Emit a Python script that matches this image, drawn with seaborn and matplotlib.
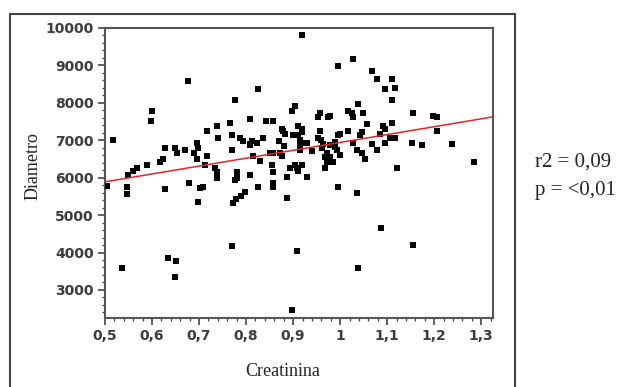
import numpy as np
import pandas as pd
import matplotlib
matplotlib.use("Agg")
import matplotlib.pyplot as plt
import seaborn as sns
from matplotlib.ticker import MultipleLocator
from matplotlib.patches import Rectangle

# ---- data ----
creatinina = [
    0.505, 0.517, 0.536, 0.549, 0.547, 0.547, 0.560, 0.567, 0.589, 0.600,
    0.598, 0.617, 0.624, 0.628, 0.628, 0.634, 0.651, 0.649, 0.649, 0.653,
    0.670, 0.677, 0.679, 0.695, 0.698, 0.690, 0.695, 0.717, 0.713, 0.702,
    0.709, 0.698, 0.717, 0.738, 0.740, 0.738, 0.738, 0.734, 0.766, 0.770,
    0.770, 0.781, 0.781, 0.777, 0.772, 0.779, 0.790, 0.798, 0.770, 0.777,
    0.809, 0.794, 0.809, 0.813, 0.823, 0.836, 0.815, 0.809, 0.826, 0.826,
    0.843, 0.857, 0.857, 0.855, 0.857, 0.857, 0.857, 0.877, 0.883, 0.877,
    0.887, 0.887, 0.898, 0.904, 0.900, 0.904, 0.898, 0.909, 0.919, 0.919,
    0.911, 0.915, 0.926, 0.911, 0.919, 0.930, 0.953, 0.957, 0.974, 0.979,
    0.957, 0.953, 0.964, 0.962, 0.972, 0.968, 0.979, 0.972, 0.989, 0.994,
    0.985, 0.968, 0.996, 0.996, 0.996, 1.017, 1.017, 1.026, 1.028, 1.028,
    1.028, 1.036, 1.038, 1.036, 1.038, 1.047, 1.049, 1.053, 1.047, 1.057,
    1.068, 1.068, 1.079, 1.079, 1.085, 1.087, 1.092, 1.096, 1.096, 1.096,
    1.106, 1.111, 1.111, 1.117, 1.111, 1.117, 1.121, 1.153, 1.155, 1.155,
    1.174, 1.198, 1.206, 1.206, 1.238, 1.285,
    0.787, 0.809, 0.879, 0.911, 0.919, 0.915, 1.000, 1.043, 0.851, 0.872,
    0.915, 0.930, 0.894, 0.909, 0.972, 0.979,
    0.870, 0.940, 0.960, 0.990, 1.000, 0.830, 0.880,
]
diametro = [
    5790, 7020, 3590, 6060, 5740, 5560, 6190, 6250, 6330, 7790,
    7520, 6410, 6510, 6780, 5690, 3850, 3770, 3350, 6780, 6650,
    6730, 8590, 5850, 6940, 6780, 6670, 6510, 6590, 6330, 5720,
    5740, 5340, 7260, 7390, 7050, 6140, 5980, 6270, 7470, 7130,
    6730, 6140, 5980, 5930, 5330, 5430, 5510, 5610, 4170, 8080,
    7580, 6990, 6860, 6990, 6940, 7050, 6590, 6060, 5740, 8380,
    7520, 7520, 6670, 6330, 6140, 5870, 5740, 7310, 7180, 6590,
    6010, 5470, 7790, 7920, 7130, 6330, 2470, 4040, 9810, 7310,
    7130, 6860, 6940, 6190, 6330, 6010, 7610, 7720, 7610, 7660,
    7260, 7050, 6910, 6780, 6670, 6540, 6540, 6410, 6810, 6730,
    6410, 6250, 5740, 8990, 7130, 7260, 7790, 7720, 9170, 7610,
    6940, 6730, 7980, 5580, 3590, 6650, 7740, 6510, 7210, 7440,
    6910, 8860, 8640, 6730, 7180, 4650, 7390, 7310, 8380, 6940,
    7070, 7470, 8640, 8400, 8080, 7050, 6270, 6940, 7740, 4200,
    6860, 7660, 7610, 7260, 6910, 6410,
    7050, 6910, 7260, 7390, 7210, 7000, 7180, 7130, 6670, 6650,
    6730, 6940, 6250, 6270, 6460, 6860,
    6990, 6700, 7000, 6950, 6600, 6450, 6850,
]
xticks = [0.5, 0.6, 0.7, 0.8, 0.9, 1.0, 1.1, 1.2, 1.3]
xtick_labels = ["0,5", "0,6", "0,7", "0,8", "0,9", "1", "1,1", "1,2", "1,3"]
yticks = [3000, 4000, 5000, 6000, 7000, 8000, 9000, 10000]
ytick_labels = ["3000", "4000", "5000", "6000", "7000", "8000", "9000", "10000"]
stats_lines = ["r2 = 0,09", "p = <0,01"]

df = pd.DataFrame({"Creatinina": creatinina, "Diametro": diametro})

sns.set_style("white")
plt.rcParams["font.family"] = ["DejaVu Sans"]

W, H = 641, 387
fig = plt.figure(figsize=(W / 100, H / 100), dpi=100)
ax = fig.add_axes([105 / W, 1 - 318 / H, (493 - 105) / W, (318 - 28) / H])
ax.set_xlim(0.5, 1.325)
ax.set_ylim(2250, 10000)

sns.scatterplot(data=df, x="Creatinina", y="Diametro", ax=ax, marker="s",
                s=20, color="black", linewidth=0, zorder=3)
sns.regplot(data=df, x="Creatinina", y="Diametro", ax=ax, scatter=False,
            ci=None, truncate=False,
            line_kws=dict(color="#e3242b", lw=1.1, zorder=4))
ax.set_xlim(0.5, 1.325)
ax.set_ylim(2250, 10000)

ax.set_xticks(xticks)
ax.set_xticklabels(xtick_labels, fontweight="bold", fontsize=10, color="#3c3c3c")
ax.set_yticks(yticks)
ax.set_yticklabels(ytick_labels, fontweight="bold", fontsize=10, color="#3c3c3c")
ax.xaxis.set_minor_locator(MultipleLocator(0.02))
ax.yaxis.set_minor_locator(MultipleLocator(200))
ax.tick_params(which="major", direction="out", length=5, width=1.2,
               color="#444444", bottom=True, left=True, pad=3)
ax.tick_params(which="minor", direction="out", length=2.5, width=0.9,
               color="#444444", bottom=True, left=True)

for sp in ax.spines.values():
    sp.set_visible(True)
    sp.set_color("#555555")
    sp.set_linewidth(1.5)

ax.set_xlabel("Creatinina", family=["Liberation Serif"], fontsize=13, color="#222222")
ax.set_ylabel("Diametro", family=["Liberation Serif"], fontsize=13, color="#222222")
ax.xaxis.set_label_coords((283 - 105) / 388, (318 - 372) / 290)
ax.xaxis.label.set_va("center")
ax.yaxis.set_label_coords((33 - 105) / 388, (318 - 166) / 290)
ax.yaxis.label.set_va("center")

fig.text(535 / W, 1 - 162 / H, stats_lines[0], family=["Liberation Serif"],
         fontsize=15, color="#222222", ha="left", va="center")
fig.text(535 / W, 1 - 190 / H, stats_lines[1], family=["Liberation Serif"],
         fontsize=15, color="#222222", ha="left", va="center")

frame = Rectangle((10 / W, -0.1), (515 - 10) / W, 1 - 14 / H + 0.1,
                  transform=fig.transFigure, fill=False, ec="#444444",
                  lw=1.5, clip_on=False)
fig.add_artist(frame)

fig.savefig("out.png", dpi=100)
